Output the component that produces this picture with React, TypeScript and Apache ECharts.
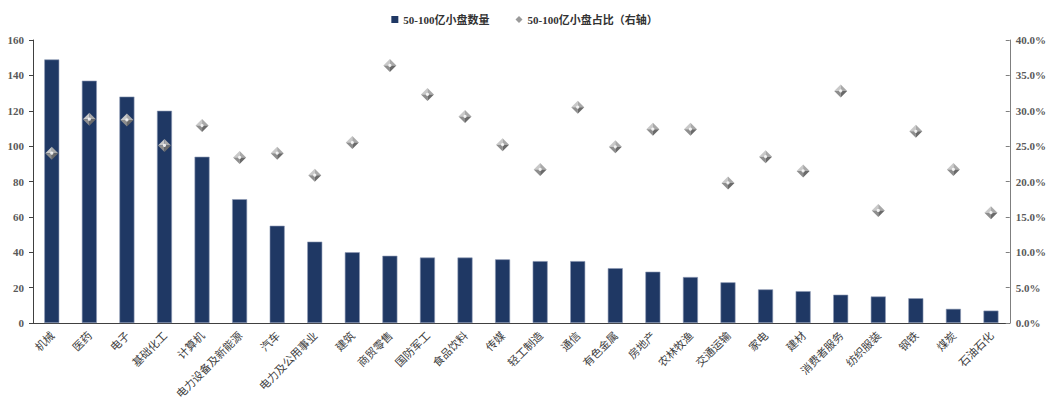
import React, { useEffect, useRef } from "react";
import * as echarts from "echarts";

const categories = [
  "机械", "医药", "电子", "基础化工", "计算机", "电力设备及新能源", "汽车",
  "电力及公用事业", "建筑", "商贸零售", "国防军工", "食品饮料", "传媒", "轻工制造",
  "通信", "有色金属", "房地产", "农林牧渔", "交通运输", "家电", "建材",
  "消费者服务", "纺织服装", "钢铁", "煤炭", "石油石化",
];

// 50-100亿小盘数量
const counts = [
  149, 137, 128, 120, 94, 70, 55, 46, 40, 38, 37, 37, 36, 35, 35, 31, 29, 26,
  23, 19, 18, 16, 15, 14, 8, 7,
];

// 50-100亿小盘占比（右轴）
const shares = [
  0.240, 0.288, 0.287, 0.251, 0.279, 0.234, 0.240, 0.209, 0.255, 0.364, 0.323,
  0.292, 0.252, 0.217, 0.305, 0.249, 0.274, 0.274, 0.198, 0.235, 0.215, 0.328,
  0.159, 0.271, 0.217, 0.156,
];

const leftTicks = { min: 0, max: 160, interval: 20 };
const rightTicks = { min: 0, max: 0.4, interval: 0.05 };

const BAR_NAME = "50-100亿小盘数量";
const SHARE_NAME = "50-100亿小盘占比（右轴）";

const serif = "'Times New Roman', 'Liberation Serif', 'Noto Sans CJK SC', serif";

// Bevelled grey diamond drawn as four shaded facets around the data point
function renderDiamond(params: any, api: any) {
  const p = api.coord([api.value(0), api.value(1)]);
  const cx = p[0];
  const cy = p[1];
  const r = 6.5;
  const top = [cx, cy - r];
  const right = [cx + r, cy];
  const bottom = [cx, cy + r];
  const left = [cx - r, cy];
  const c = [cx, cy];
  const facet = (pts: number[][], color: string) => ({
    type: "polygon",
    shape: { points: pts },
    style: { fill: color, stroke: null },
  });
  return {
    type: "group",
    children: [
      facet([top, left, c], "#c9c9c9"),
      facet([top, right, c], "#a9a9a9"),
      facet([left, bottom, c], "#8e8e8e"),
      facet([right, bottom, c], "#6a6a6a"),
      {
        type: "circle",
        shape: { cx, cy, r: 1.6 },
        style: { fill: "rgba(255,255,255,0.85)" },
      },
    ],
  };
}

export default function App() {
  const ref = useRef<HTMLDivElement>(null);

  useEffect(() => {
    if (!ref.current) return;
    const chart = echarts.init(ref.current, null, { renderer: "svg" });
    chart.setOption({
      animation: false,
      backgroundColor: "#ffffff",
      legend: {
        top: 9,
        left: "center",
        itemWidth: 7,
        itemHeight: 7,
        itemGap: 26,
        textStyle: {
          fontFamily: serif,
          fontWeight: "bold",
          fontSize: 11,
          color: "#333333",
        },
        data: [
          { name: BAR_NAME, icon: "rect", itemStyle: { color: "#1f3864", borderWidth: 0 } },
          { name: SHARE_NAME, icon: "diamond", itemStyle: { color: "#9a9a9a", borderWidth: 0 } },
        ],
      },
      grid: { left: 33, right: 39, top: 40, bottom: 83 },
      xAxis: {
        type: "category",
        data: categories,
        axisLine: { lineStyle: { color: "#404040", width: 1 } },
        axisTick: { show: false },
        axisLabel: {
          rotate: 45,
          interval: 0,
          margin: 10,
          fontSize: 11,
          color: "#404040",
          fontFamily: "'Noto Sans CJK SC', sans-serif",
        },
      },
      yAxis: [
        {
          type: "value",
          ...leftTicks,
          axisLine: { show: true, lineStyle: { color: "#404040" } },
          axisTick: { show: true, length: 4, lineStyle: { color: "#404040" } },
          splitLine: { show: false },
          axisLabel: {
            fontFamily: serif,
            fontWeight: "bold",
            fontSize: 11,
            color: "#595959",
            margin: 9,
          },
        },
        {
          type: "value",
          ...rightTicks,
          position: "right",
          axisLine: { show: true, lineStyle: { color: "#7f7f7f" } },
          axisTick: { show: true, inside: true, length: 4, lineStyle: { color: "#7f7f7f" } },
          splitLine: { show: false },
          axisLabel: {
            fontFamily: serif,
            fontWeight: "bold",
            fontSize: 11,
            color: "#595959",
            margin: 6,
            formatter: (v: number) => (v * 100).toFixed(1) + "%",
          },
        },
      ],
      series: [
        {
          name: BAR_NAME,
          type: "bar",
          yAxisIndex: 0,
          data: counts,
          barWidth: 15,
          itemStyle: {
            color: "#1f3864",
            borderColor: "#8e9bb5",
            borderWidth: 0.6,
          },
        },
        {
          name: SHARE_NAME,
          type: "custom",
          yAxisIndex: 1,
          renderItem: renderDiamond,
          itemStyle: { color: "#9a9a9a" },
          data: shares.map((v, i) => [i, v]),
          encode: { x: 0, y: 1 },
          z: 5,
        },
      ],
    });
    return () => chart.dispose();
  }, []);

  return <div ref={ref} style={{ width: 1049, height: 406, position: "absolute", left: 0, top: 0 }} />;
}
